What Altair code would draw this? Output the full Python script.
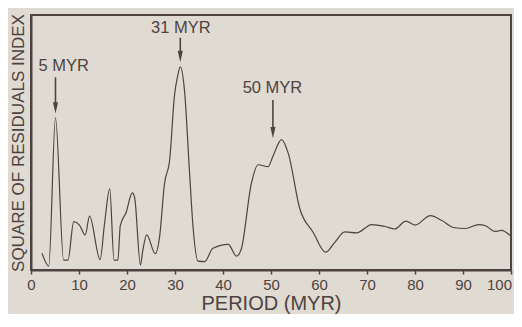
import altair as alt
import pandas as pd

# Period (Myr) and square-of-residuals index (arbitrary units)
period = [2.3, 3.7, 5.1, 6.8, 7.7, 8.9, 10.1, 11.3, 12.2, 14.4, 15.3, 16.4, 17.3, 18.1,
          18.6, 19.8, 21.1, 21.6, 22.8, 23.3, 24.1, 25.9, 26.8, 27.8, 28.9, 29.9, 30.5,
          31.1, 32.0, 33.0, 33.8, 34.8, 36.2, 37.9, 41.1, 42.8, 43.8, 45.9, 47.3, 49.4,
          50.4, 52.2, 53.6, 56.0, 58.8, 61.4, 63.3, 65.4, 67.8, 71.0, 73.8, 75.8, 78.1,
          80.0, 83.2, 85.6, 88.0, 90.5, 93.3, 94.6, 96.7, 98.0, 100.0]
index = [17, 4, 154, 10, 10, 49, 45.5, 35.5, 54.5, 10.5, 46, 82, 10, 10,
         45, 58, 78, 73, 5, 20, 35.5, 16.5, 34, 87, 112, 177, 195,
         205.5, 180.5, 101, 41, 9, 8.5, 22, 26, 14, 21, 87.5, 106.5, 104.5,
         115, 132, 118, 62, 38, 18, 28, 38.5, 37.5, 46, 44, 41.5, 49.5,
         45.5, 55, 50, 43, 42, 46, 45, 39, 40, 34]

# Annotations
ann_text = ["5 MYR", "31 MYR", "50 MYR"]
ann_text_x = [6.8, 31.2, 50.3]
ann_text_y = [206, 244.5, 184.5]
arrow_x = [5.1, 31.1, 50.4]
arrow_top = [195, 235, 172]
arrow_tip = [159, 211, 134]

x_ticks = list(range(0, 101, 10))

INK = "#4f4240"
BG = "#dfdad2"

curve = pd.DataFrame({"period": period, "index": index})
ann = pd.DataFrame({"label": ann_text, "tx": ann_text_x, "ty": ann_text_y,
                    "ax": arrow_x, "atop": arrow_top, "atip": arrow_tip})
ann["head"] = ann["atip"] + 5

xs = alt.Scale(domain=[0, 100], nice=False, zero=False)
ys = alt.Scale(domain=[0, 258], nice=False, zero=False)

line = alt.Chart(curve).mark_line(color=INK, strokeWidth=1.2, interpolate="monotone").encode(
    x=alt.X("period:Q", scale=xs,
            axis=alt.Axis(title="PERIOD (MYR)", values=x_ticks,
                          grid=False, tickSize=4, labelPadding=3, labelFlush=False,
                          labelOffset={"condition": {"test": "datum.value == 100", "value": -12},
                                       "value": 0},
                          titleBaseline="alphabetic", titleY=39)),
    y=alt.Y("index:Q", scale=ys,
            axis=alt.Axis(title="SQUARE OF RESIDUALS INDEX", labels=False, ticks=False,
                          grid=False, titlePadding=8, titleBaseline="alphabetic")),
)

texts = alt.Chart(ann).mark_text(color=INK, fontSize=16.5, font="Liberation Sans").encode(
    x=alt.X("tx:Q", scale=xs), y=alt.Y("ty:Q", scale=ys), text="label:N")

rules = alt.Chart(ann).mark_rule(color=INK, strokeWidth=1.6).encode(
    x=alt.X("ax:Q", scale=xs), y=alt.Y("atop:Q", scale=ys), y2="head:Q")

heads = alt.Chart(ann).mark_point(
    shape="M-0.45,-1 L0.45,-1 L0,1 Z", filled=True, color=INK, opacity=1, size=130
).encode(x=alt.X("ax:Q", scale=xs), y=alt.Y("head:Q", scale=ys))

chart = alt.layer(line, rules, heads, texts).properties(
    width=480, height=255,
    padding={"left": 23, "top": 7, "right": 3, "bottom": 44},
    autosize=alt.AutoSizeParams(type="none"),
    background=BG,
).configure_view(
    stroke=INK, strokeWidth=2
).configure_axis(
    domainColor=INK, domainWidth=2, tickColor=INK, tickWidth=1.5,
    labelColor=INK, titleColor=INK, labelFont="Liberation Sans", titleFont="Liberation Sans",
    labelFontSize=15, titleFontWeight="normal",
).configure_axisX(titleFontSize=20).configure_axisY(titleFontSize=17)

chart.save("out.html", embed_options={"renderer": "svg", "actions": False})
